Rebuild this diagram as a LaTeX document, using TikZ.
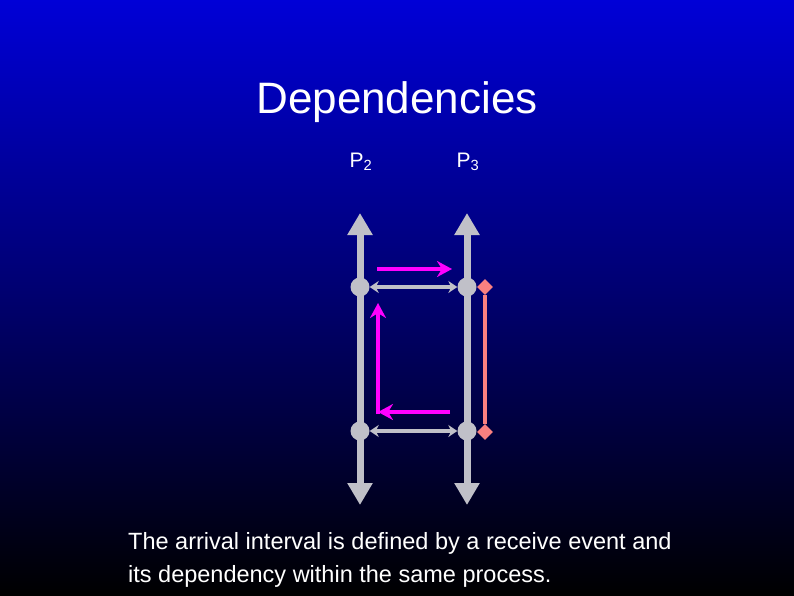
\documentclass[tikz,border=0pt]{standalone}
\usepackage{fontspec}
\setmainfont{Liberation Sans}
\usetikzlibrary{arrows.meta,shapes.geometric}
\definecolor{mag}{RGB}{255,0,255}
\definecolor{gr}{RGB}{192,192,200}
\definecolor{pk}{RGB}{250,128,128}
\begin{document}
\begin{tikzpicture}[x=1pt,y=-1pt,
  proc/.style={draw=gr, line width=7pt, {Triangle[width=24pt,length=22pt]}-{Triangle[width=24pt,length=22pt]}},
  msg/.style={draw=gr, line width=3.5pt, {Stealth[width=12pt,length=9pt]}-{Stealth[width=12pt,length=9pt]}},
  dep/.style={draw=mag, line width=4pt, -{Stealth[width=16pt,length=15pt]}},
  ev/.style={circle, fill=gr, inner sep=0pt, minimum size=19pt},
  dia/.style={diamond, fill=pk, inner sep=0pt, minimum size=16pt},
  txt/.style={text=white, inner sep=0pt}]
\shade[top color={rgb,255:red,0;green,0;blue,215}, bottom color=black, middle color={rgb,255:red,0;green,0;blue,110}, shading angle=0] (0,0) rectangle (794,595);
\useasboundingbox (0,0) rectangle (794,595);
\node[txt, font=\fontsize{44}{52}\selectfont] (title) at (397,102) {Dependencies};
\node[txt, font=\fontsize{21}{25}\selectfont] (p2) at (361,162) {P\textsubscript{2}};
\node[txt, font=\fontsize{21}{25}\selectfont] (p3) at (468,162) {P\textsubscript{3}};
\coordinate (a1) at (360,213); \coordinate (a2) at (360,505);
\coordinate (b1) at (467,213); \coordinate (b2) at (467,505);
\draw[proc] (a2) -- (a1);
\draw[proc] (b2) -- (b1);
\node[ev] (e1) at (360,287) {};
\node[ev] (e2) at (360,431) {};
\node[ev] (f1) at (467,287) {};
\node[ev] (f2) at (467,431) {};
\draw[msg] (e1) -- (f1);
\draw[msg] (e2) -- (f2);
\coordinate (m1) at (377,269); \coordinate (m2) at (452,269);
\draw[dep] (m1) -- (m2);
\coordinate (l1) at (450,412); \coordinate (l2) at (378,412); \coordinate (l3) at (378,303);
\draw[dep] (l1) -- (l2);
\draw[dep, shorten <=-2pt] (l2) -- (l3);
\node[dia] (d1) at (485,287) {};
\node[dia] (d2) at (485,432) {};
\draw[pk, line width=4pt] (d1) -- (d2);
\node[txt, anchor=base west, font=\fontsize{23.5}{28}\selectfont, align=left] (t1) at (128,549) {The arrival interval is defined by a receive event and};
\node[txt, anchor=base west, font=\fontsize{23.5}{28}\selectfont, align=left] (t2) at (128,582) {its dependency within the same process.};
\end{tikzpicture}
\end{document}
